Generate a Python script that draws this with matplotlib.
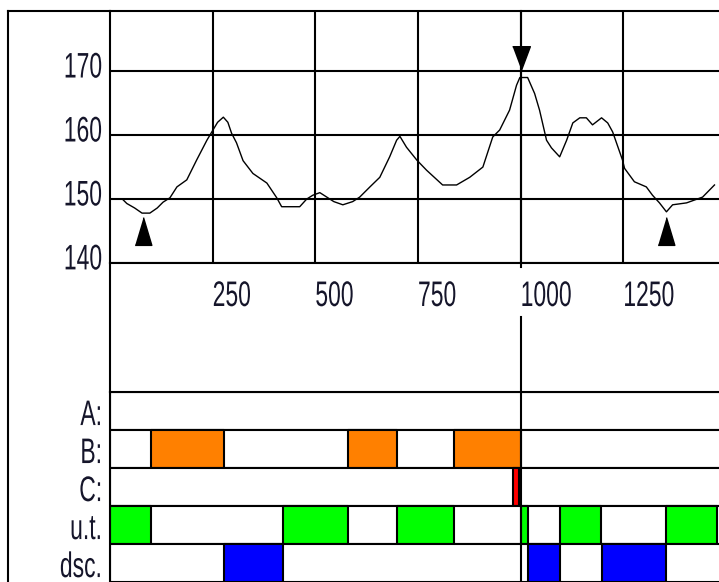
import matplotlib
matplotlib.use('Agg')
import matplotlib.pyplot as plt
from matplotlib.lines import Line2D
from matplotlib.transforms import Affine2D, blended_transform_factory
from matplotlib.patheffects import AbstractPathEffect

# curve values
price_x = [30, 41, 60, 78, 97, 115, 129, 146, 163, 187, 211, 236, 248, 262, 276,
           287, 296, 308, 324, 348, 382, 406, 418, 440, 462, 479, 494, 511, 528,
           545, 567, 591, 608, 633, 657, 681, 698, 706, 722, 747, 771, 810, 844,
           876, 908, 932, 949, 973, 990, 998, 1017, 1034, 1046, 1063, 1075, 1095,
           1112, 1127, 1144, 1160, 1175, 1197, 1212, 1224, 1248, 1253, 1277, 1306,
           1321, 1338, 1355, 1370, 1404, 1443, 1472]
price_y = [150.0, 149.3, 148.6, 147.8, 147.8, 148.6, 149.5, 150.2, 151.9, 153.0,
           156.1, 159.2, 160.5, 162.0, 162.8, 162.0, 160.3, 158.8, 156.0, 154.0,
           152.5, 150.2, 148.8, 148.8, 148.8, 150.0, 150.6, 151.0, 150.3, 149.6,
           149.1, 149.6, 150.3, 151.9, 153.4, 156.6, 159.2, 159.8, 158.1, 156.1,
           154.5, 152.2, 152.2, 153.4, 155.0, 159.7, 160.8, 163.9, 167.8, 169.0,
           169.0, 166.5, 163.9, 159.2, 158.0, 156.6, 159.2, 161.9, 162.7, 162.7,
           161.6, 162.7, 161.9, 160.5, 156.1, 154.8, 152.7, 151.9, 150.6, 149.4,
           148.0, 149.1, 149.4, 150.3, 152.2]

low_marks_x = [80, 1355]
low_marks_y = [145.0, 145.0]
high_mark_x = [1000]
high_mark_y = [172.0]
cursor_x = 1000

x_ticks = [250, 500, 750, 1000, 1250]
y_ticks = [140, 150, 160, 170]

row_labels = ['A:', 'B:', 'C:', 'u.t.', 'dsc.']
row_A = []
row_B = [(100, 178), (580, 120), (838, 162)]
row_C = [(981, 14)]
row_ut = [(0, 100), (421, 159), (699, 139), (1000, 18), (1096, 99), (1355, 123)]
row_dsc = [(278, 143), (1018, 78), (1197, 157)]
row_colors = ['#ff8000', '#ff8000', '#ff0000', '#00ff00', '#0000ff']

W, H = 719, 582
XMAX = 1483
LW = 1.5
txt_color = '#15152a'


class Tall(AbstractPathEffect):
    # stretch glyphs vertically around their baseline (narrow, tall label font)
    def __init__(self, sy):
        super().__init__()
        self.sy = sy

    def draw_path(self, renderer, gc, tpath, affine, rgbFace=None):
        renderer.draw_path(gc, tpath, Affine2D().scale(1.0, self.sy) + affine, rgbFace)


label_kw = dict(fontsize=16.5, family=['Liberation Sans', 'DejaVu Sans'],
                color=txt_color, va='baseline', path_effects=[Tall(1.55)])

fig = plt.figure(figsize=(W / 100, H / 100), dpi=100)

ax1 = fig.add_axes([110 / W, 1 - 263 / H, 609 / W, 252 / H])
ax2 = fig.add_axes([110 / W, 1 - 582 / H, 609 / W, 190 / H])

# top panel: price line
ax1.plot(price_x, price_y, color='black', lw=1.0)
ax1.plot(low_marks_x, low_marks_y, linestyle='none', color='black',
         marker=[(-0.6, -1), (0.6, -1), (0, 1)], markersize=20)
ax1.plot(high_mark_x, high_mark_y, linestyle='none', color='black',
         marker=[(-0.75, 1), (0.75, 1), (0, -1)], markersize=17)
ax1.set_xlim(0, XMAX)
ax1.set_ylim(140, 179.4)
ax1.set_xticks(x_ticks)
ax1.set_yticks(y_ticks)
ax1.tick_params(length=0, labelleft=False, labelbottom=False)
ax1.grid(True, color='black', lw=LW)
ax1.spines['right'].set_visible(False)
for s in ['left', 'top', 'bottom']:
    ax1.spines[s].set_linewidth(LW)
ax1.axvline(cursor_x, ymin=-4 / 252, ymax=1, color='black', lw=LW, clip_on=False)

tr = blended_transform_factory(ax1.transData, ax1.transAxes)
for t in x_ticks:
    ax1.text(t, -43 / 252, str(t), transform=tr, ha='left', **label_kw)
tr_y = blended_transform_factory(ax1.transAxes, ax1.transData)
for t in y_ticks:
    ax1.text(-8 / 609, t - 1.0, str(t), transform=tr_y, ha='right', **label_kw)

# bottom panel: state rows
rows = [row_A, row_B, row_C, row_ut, row_dsc]
tr_r = blended_transform_factory(ax2.transAxes, ax2.transData)
for i, (segs, col) in enumerate(zip(rows, row_colors)):
    ax2.broken_barh([(0, XMAX + 50)], (i, 1), facecolor='white',
                    edgecolor='black', lw=LW)
    if segs:
        ax2.broken_barh(segs, (i, 1), facecolor=col, edgecolor='black', lw=LW)
    ax2.text(-8 / 609, i + 0.87, row_labels[i], transform=tr_r, ha='right', **label_kw)
ax2.set_xlim(0, XMAX)
ax2.set_ylim(5, 0)
ax2.set_xticks([])
ax2.set_yticks([])
for s in ['right', 'bottom']:
    ax2.spines[s].set_visible(False)
for s in ['left', 'top']:
    ax2.spines[s].set_linewidth(LW)
ax2.axvline(cursor_x, ymin=0, ymax=1 + 75 / 190, color='black', lw=LW, clip_on=False)

# outer frame and connecting left rule
fig.add_artist(Line2D([8 / W, 8 / W], [0, 1 - 11 / H], color='black', lw=LW))
fig.add_artist(Line2D([8 / W, 110 / W], [1 - 11 / H, 1 - 11 / H], color='black', lw=LW))
fig.add_artist(Line2D([110 / W, 110 / W], [1 - 263 / H, 1 - 392 / H], color='black', lw=LW))

fig.savefig('out.png', dpi=100)
